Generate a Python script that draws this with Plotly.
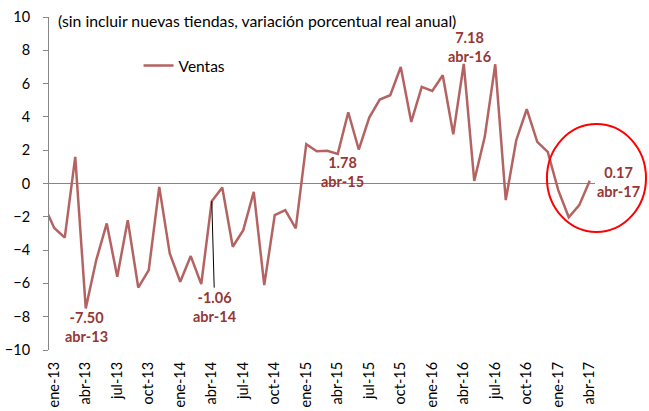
import plotly.graph_objects as go

# ---- data ----
months = ["dic-12",
          "ene-13", "feb-13", "mar-13", "abr-13", "may-13", "jun-13", "jul-13", "ago-13", "sep-13", "oct-13", "nov-13", "dic-13",
          "ene-14", "feb-14", "mar-14", "abr-14", "may-14", "jun-14", "jul-14", "ago-14", "sep-14", "oct-14", "nov-14", "dic-14",
          "ene-15", "feb-15", "mar-15", "abr-15", "may-15", "jun-15", "jul-15", "ago-15", "sep-15", "oct-15", "nov-15", "dic-15",
          "ene-16", "feb-16", "mar-16", "abr-16", "may-16", "jun-16", "jul-16", "ago-16", "sep-16", "oct-16", "nov-16", "dic-16",
          "ene-17", "feb-17", "mar-17", "abr-17"]
ventas = [-1.3,
          -2.67, -3.25, 1.6, -7.50, -4.6, -2.4, -5.6, -2.2, -6.25, -5.2, -0.2, -4.2,
          -5.9, -4.36, -6.04, -1.06, -0.24, -3.8, -2.8, -0.5, -6.1, -1.9, -1.6, -2.7,
          2.36, 1.94, 1.96, 1.78, 4.28, 2.04, 3.96, 5.04, 5.3, 7.0, 3.7, 5.8,
          5.56, 6.5, 2.96, 7.18, 0.16, 2.8, 7.16, -1.0, 2.6, 4.46, 2.5, 1.9,
          -0.4, -2.03, -1.3, 0.17]
highlights = ["abr-13", "abr-14", "abr-15", "abr-16", "abr-17"]
title_text = "(sin incluir nuevas tiendas, variación porcentual real anual)"
y_ticks = [10, 8, 6, 4, 2, 0, -2, -4, -6, -8, -10]

# month index: ene-13 = 0
x_idx = list(range(-1, len(months) - 1))
tick_labels = months[1::3]
tick_pos = [x_idx[months.index(m)] for m in tick_labels]
sep_ticks = [p + 2.5 for p in tick_pos[:-1]]

FONT = "Lato, 'Open Sans', sans-serif"
LINE_COLOR = "#B36462"
LABEL_COLOR = "#953735"
AXIS_GRAY = "#868686"

fig = go.Figure()
fig.add_trace(go.Scatter(
    x=x_idx, y=ventas, mode="lines", name="Ventas",
    line=dict(color=LINE_COLOR, width=2.5),
))

# label offsets (pixels) for highlighted points
offsets = {
    "abr-13": dict(xshift=1, yshift=-19),
    "abr-15": dict(xshift=5, yshift=-18),
    "abr-16": dict(xshift=6, yshift=17),
    "abr-17": dict(xshift=29, yshift=-1),
}
for m in highlights:
    i = months.index(m)
    txt = f"<b>{ventas[i]:.2f}</b><br><b>{m}</b>"
    if m == "abr-14":
        fig.add_annotation(x=x_idx[i], y=ventas[i], text=txt, showarrow=True,
                           arrowhead=0, arrowwidth=1, arrowcolor="black",
                           ax=3, ay=106, standoff=0,
                           font=dict(family=FONT, size=14.5, color=LABEL_COLOR))
    else:
        fig.add_annotation(x=x_idx[i], y=ventas[i], text=txt, showarrow=False,
                           yanchor="middle",
                           font=dict(family=FONT, size=14.5, color=LABEL_COLOR),
                           **offsets[m])

fig.add_annotation(xref="paper", yref="paper", x=0.012, y=0.988, xanchor="left", yanchor="middle",
                   text=title_text, showarrow=False,
                   font=dict(family=FONT, size=15.8, color="black"))

# red highlight circle
fig.add_shape(type="circle", xref="paper", yref="paper",
              x0=0.912, x1=1.0934, y0=0.3544, y1=0.6787,
              line=dict(color="#FF0000", width=2))

fig.update_layout(
    width=649, height=411,
    margin=dict(l=49, r=54, t=17, b=61, autoexpand=False),
    paper_bgcolor="white", plot_bgcolor="white",
    showlegend=True,
    legend=dict(x=0.164, y=0.853, xanchor="left", yanchor="middle",
                bgcolor="rgba(0,0,0,0)", font=dict(family=FONT, size=15.5, color="black"),
                itemwidth=30),
    xaxis=dict(range=[-0.5, 51.5], tickmode="array", tickvals=tick_pos, ticktext=tick_labels,
               tickangle=-90, showline=False, showgrid=False, zeroline=False, ticks="",
               ticklabelstandoff=8, automargin=False,
               tickfont=dict(family=FONT, size=14.5, color="black")),
    xaxis2=dict(range=[-0.5, 51.5], overlaying="x", anchor="free", position=0.5, side="bottom",
                tickmode="array", tickvals=sep_ticks, showticklabels=False, ticks="outside",
                ticklen=5, tickcolor=AXIS_GRAY, showline=False, showgrid=False, zeroline=False),
    yaxis=dict(range=[-10, 10], tickmode="array", tickvals=y_ticks, showline=True, linecolor=AXIS_GRAY,
               linewidth=1, ticks="outside", ticklen=5, tickcolor=AXIS_GRAY, showgrid=False,
               zeroline=True, zerolinecolor=AXIS_GRAY, zerolinewidth=1,
               ticklabelstandoff=10, automargin=False,
               tickfont=dict(family=FONT, size=14.5, color="black")),
)

fig.write_html("out.html", config={"displayModeBar": False},
               post_script="document.body.style.margin='0px';document.body.style.padding='0px';")
